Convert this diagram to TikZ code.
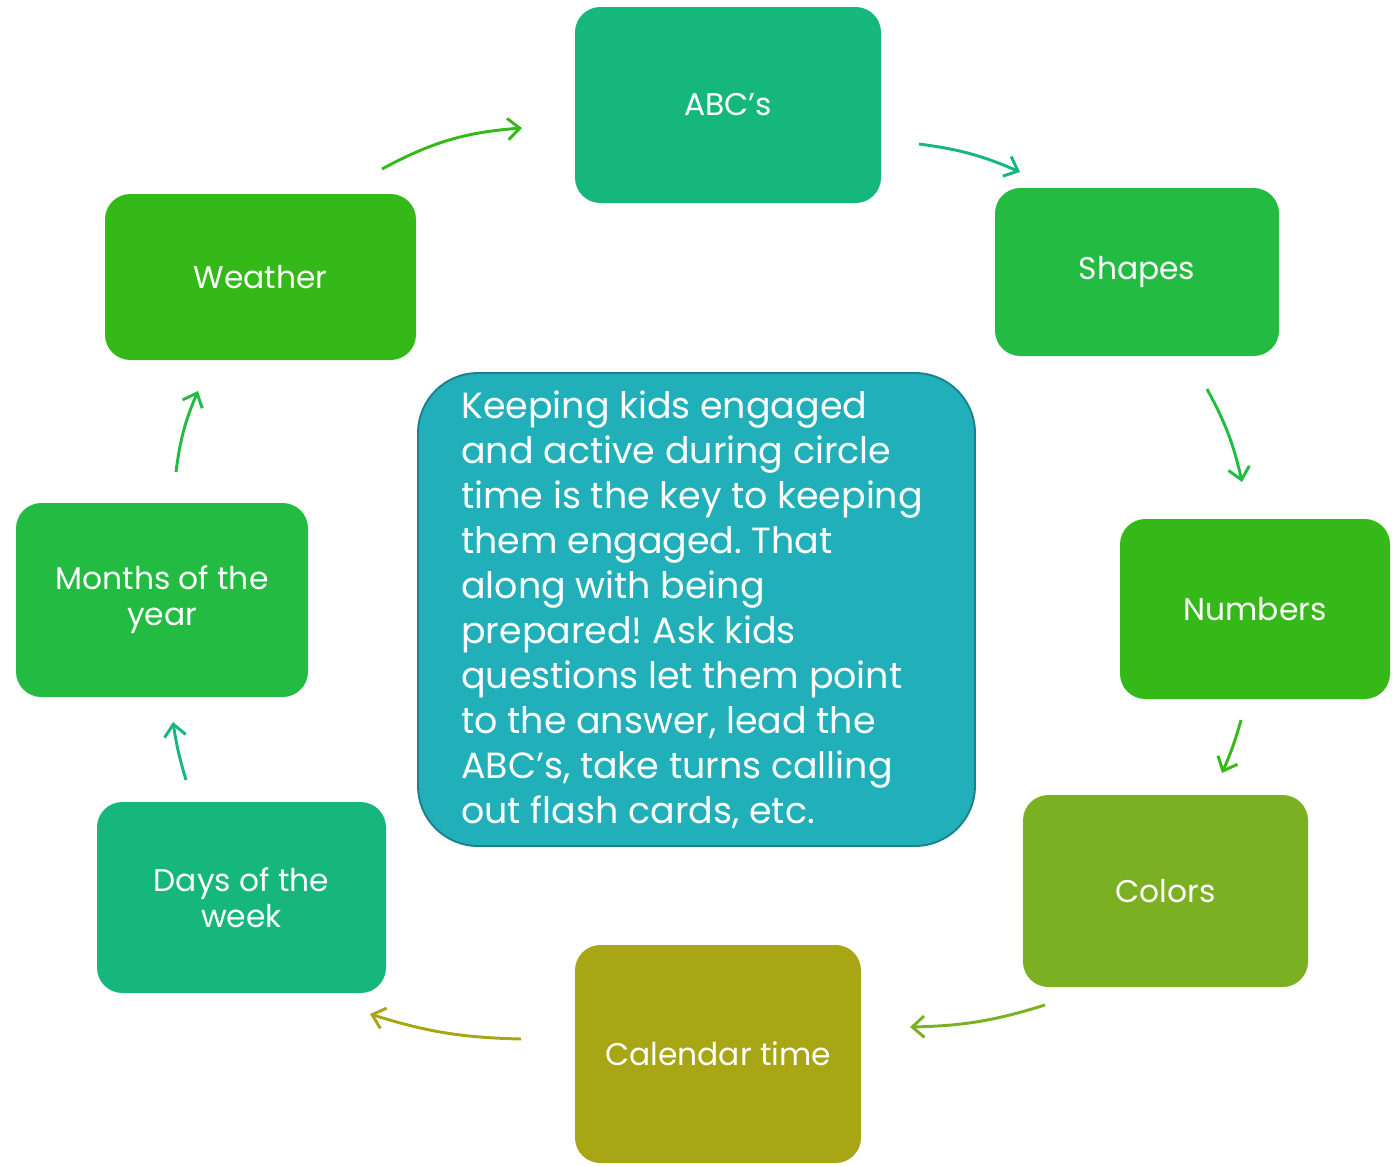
\documentclass[tikz,border=0pt]{standalone}
\usepackage{fontspec}
\setmainfont{Poppins}
\frenchspacing
\usetikzlibrary{arrows.meta}
\definecolor{cA}{RGB}{22,183,125}
\definecolor{cB}{RGB}{35,187,65}
\definecolor{cC}{RGB}{53,185,24}
\definecolor{cD}{RGB}{123,176,34}
\definecolor{cE}{RGB}{168,166,20}
\definecolor{cMid}{RGB}{33,176,185}
\definecolor{cMidLine}{RGB}{28,128,140}
\tikzset{
  box/.style={rectangle, rounded corners=19pt, draw=none, text=white,
    font=\fontsize{23.5}{27}\selectfont, align=center, inner sep=0pt},
  midbox/.style={rectangle, rounded corners=45pt, draw=cMidLine, line width=1.4pt,
    fill=cMid, text=white, inner sep=0pt},
  midtxt/.style={text=white, font=\fontsize{27.3}{33.75}\selectfont, align=left, inner sep=0pt},
  arr/.style={line width=2.2pt, -{Straight Barb[length=9pt,width=16pt,line width=2.2pt]}}
}
\begin{document}
\begin{tikzpicture}[x=0.75pt,y=-0.75pt]
\useasboundingbox (0,0) rectangle (1399,1165);
\node[box, fill=cA, minimum width=229.5pt, minimum height=147pt] (abc) at (728,105) {ABC’s};
\node[box, fill=cB, minimum width=213pt, minimum height=126pt] (shapes) at (1137,272) {Shapes};
\node[box, fill=cC, minimum width=202.5pt, minimum height=135pt] (numbers) at (1255,609) {Numbers};
\node[box, fill=cD, minimum width=213.75pt, minimum height=144pt] (colors) at (1165.5,891) {Colors};
\node[box, fill=cE, minimum width=214.5pt, minimum height=163.5pt] (calendar) at (718,1054) {Calendar time};
\node[box, fill=cA, minimum width=216.75pt, minimum height=143.25pt] (days) at (241.5,897.5) {Days of the\\week};
\node[box, fill=cB, minimum width=219pt, minimum height=145.5pt] (months) at (162,600) {Months of the\\year};
\node[box, fill=cC, minimum width=233.25pt, minimum height=124.5pt] (weather) at (260.5,277) {Weather};
\node[midbox, minimum width=417.75pt, minimum height=354.75pt] (mid) at (696.5,609.5) {};
\node[midtxt, anchor=west] (midtext) at (461,609.5)
{Keeping kids engaged\\and active during circle\\time is the key to keeping\\them engaged. That\\along with being\\prepared! Ask kids\\questions let them point\\to the answer, lead the\\ABC’s, take turns calling\\out flash cards, etc.};
% arrow end points
\coordinate (a1s) at (382,169); \coordinate (a1e) at (522,128);
\coordinate (a2s) at (919,144); \coordinate (a2e) at (1020,172);
\coordinate (a3s) at (1207,389); \coordinate (a3e) at (1242,482);
\coordinate (a4s) at (1241,720); \coordinate (a4e) at (1222,773);
\coordinate (a5s) at (1045,1005); \coordinate (a5e) at (910,1027);
\coordinate (a6s) at (521,1039); \coordinate (a6e) at (370,1014);
\coordinate (a7s) at (186,780); \coordinate (a7e) at (173,722);
\coordinate (a8s) at (176,472); \coordinate (a8e) at (198,391);
\draw[arr, cC] (a1s) to[bend left=12] (a1e);
\draw[arr, cA] (a2s) to[bend left=8] (a2e);
\draw[arr, cB] (a3s) to[bend left=8] (a3e);
\draw[arr, cC] (a4s) to[bend left=4] (a4e);
\draw[arr, cD] (a5s) to[bend left=8] (a5e);
\draw[arr, cE] (a6s) to[bend left=8] (a6e);
\draw[arr, cA] (a7s) to[bend left=4] (a7e);
\draw[arr, cB] (a8s) to[bend left=8] (a8e);
\end{tikzpicture}
\end{document}
